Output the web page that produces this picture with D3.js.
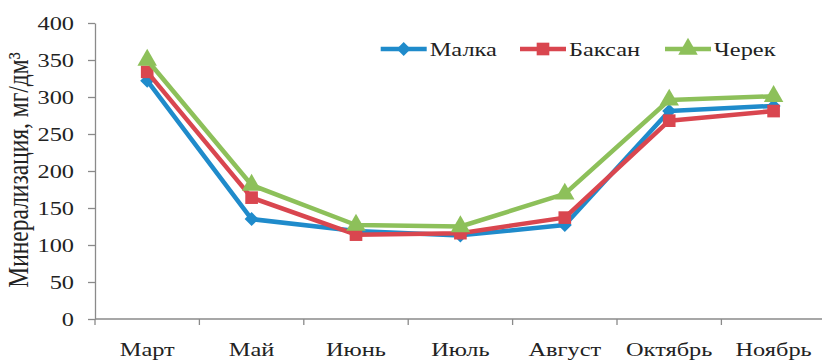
<!DOCTYPE html>
<html>
<head>
<meta charset="utf-8">
<script src="https://cdn.jsdelivr.net/npm/d3@7"></script>
<style>
  html, body { margin: 0; padding: 0; background: #fff; }
  svg { display: block; }
  text { font-family: "Liberation Serif", "Times New Roman", serif; fill: #222; }
</style>
</head>
<body>
<svg id="chart" width="822" height="361"></svg>
<script>
// Monthly mineralisation of three rivers, mg/dm³
const months = ["Март", "Май", "Июнь", "Июль", "Август", "Октябрь", "Ноябрь"];
const seriesNames = ["Малка", "Баксан", "Черек"];
const malka  = [322, 135, 119, 113, 127, 281, 288];
const baksan = [334, 164, 114, 116, 137, 268, 281];
const cherek = [350, 181, 127, 125, 169, 296, 301];
const yTicks = [0, 50, 100, 150, 200, 250, 300, 350, 400];
const yTitle = "Минерализация, мг/дм³";

const colors = ["#1f8bcb", "#d9464f", "#8dc05a"];
const symbols = [d3.symbolDiamond2, d3.symbolSquare, d3.symbolTriangle];
const symbolSizes = [125, 160, 165];
const values = [malka, baksan, cherek];

const svg = d3.select("#chart");
const plotLeft = 95, plotTop = 23, plotBottom = 319;
const band = 104.4;
const stretch = 1.25;          // type is set slightly wide

const x = d3.scaleBand().domain(months).range([plotLeft, plotLeft + band * months.length]);
const y = d3.scaleLinear().domain([0, 400]).range([plotBottom, plotTop]);
const axisColor = "#8a8a8a";

// Y axis
const yAxis = svg.append("g")
  .attr("transform", `translate(${plotLeft},0)`)
  .call(d3.axisLeft(y).tickValues(yTicks).tickSize(7).tickSizeOuter(0).tickPadding(14));
yAxis.select(".domain").attr("stroke", axisColor).attr("stroke-width", 1.3);
yAxis.selectAll(".tick line").attr("stroke", axisColor).attr("stroke-width", 1.3);
yAxis.selectAll(".tick text")
  .attr("font-size", 19.5)
  .attr("font-family", "Liberation Serif, serif")
  .attr("fill", "#222")
  .attr("dy", "0.34em")
  .attr("transform", function () {
    const tx = +d3.select(this).attr("x");
    d3.select(this).attr("x", 0);
    return `translate(${tx},0) scale(${stretch},1)`;
  });

// X axis: baseline, boundary ticks, centred labels
svg.append("line")
  .attr("x1", plotLeft).attr("x2", 822)
  .attr("y1", y(0)).attr("y2", y(0))
  .attr("stroke", axisColor).attr("stroke-width", 1.3);
svg.append("g").selectAll("line")
  .data(months.map(m => x(m)).concat([x.range()[1]]))
  .join("line")
  .attr("x1", d => d).attr("x2", d => d)
  .attr("y1", y(0)).attr("y2", y(0) + 6)
  .attr("stroke", axisColor).attr("stroke-width", 1.3);
svg.append("g").selectAll("text")
  .data(months)
  .join("text")
  .attr("text-anchor", "middle")
  .attr("font-size", 19.5)
  .attr("transform", d => `translate(${x(d) + x.bandwidth() / 2},355.5) scale(${stretch},1)`)
  .text(d => d);

// Y axis title
svg.append("text")
  .attr("text-anchor", "middle")
  .attr("font-size", 23.5)
  .attr("transform", `translate(28,170) scale(${stretch},1) rotate(-90)`)
  .text(yTitle);

// Series lines and markers
const line = d3.line()
  .x((d, i) => x(months[i]) + x.bandwidth() / 2)
  .y(d => y(d));

values.forEach((vals, k) => {
  const g = svg.append("g");
  g.append("path")
    .datum(vals)
    .attr("d", line)
    .attr("fill", "none")
    .attr("stroke", colors[k])
    .attr("stroke-width", 4.5)
    .attr("stroke-linejoin", "round");
  g.selectAll("path.mark")
    .data(vals)
    .join("path")
    .attr("class", "mark")
    .attr("d", d3.symbol().type(symbols[k]).size(symbolSizes[k]))
    .attr("transform", (d, i) => `translate(${x(months[i]) + x.bandwidth() / 2},${y(d)})`)
    .attr("fill", colors[k]);
});

// Legend
const legendX = [380.7, 520, 665];
const legendY = 49;
seriesNames.forEach((name, k) => {
  const g = svg.append("g").attr("transform", `translate(${legendX[k]},${legendY})`);
  g.append("line").attr("x1", 0).attr("x2", 46).attr("y1", 0).attr("y2", 0)
    .attr("stroke", colors[k]).attr("stroke-width", 4.5);
  g.append("path")
    .attr("d", d3.symbol().type(symbols[k]).size(symbolSizes[k]))
    .attr("transform", "translate(23,0)")
    .attr("fill", colors[k]);
  g.append("text")
    .attr("font-size", 19.5)
    .attr("transform", `translate(49,6.5) scale(${stretch},1)`)
    .text(name);
});
</script>
</body>
</html>
